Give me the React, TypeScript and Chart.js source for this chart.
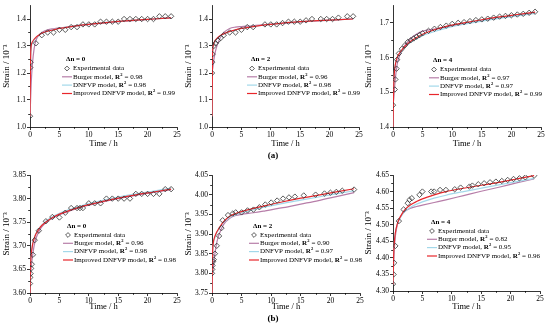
import React, { useEffect, useRef } from 'react';
import { Chart, registerables } from 'chart.js';
Chart.register(...registerables);

const FONT = '"Liberation Serif", "Times New Roman", serif';

// ---------- data ----------
const modelNames = ['Burger model', 'DNFVP model', 'Improved DNFVP model'];
const modelColors = ['#b77ea9', '#a3d8ea', '#e8262b'];

const modelT = [0, 0.1, 0.2, 0.4, 0.7, 1, 1.5, 2, 3, 4, 5, 7, 9, 12, 15, 18, 21, 24];

// (a) Δn = 0
const p1ExpT = [0, 0.05, 0.1, 1, 2, 3, 4, 5, 6, 7, 8, 9, 10, 11, 12, 13, 14, 15, 16, 17, 18, 19, 20, 21, 22, 23, 24];
const p1ExpY = [1.04, 1.22, 1.24, 1.31, 1.34, 1.35, 1.35, 1.36, 1.36, 1.37, 1.37, 1.38, 1.38, 1.38, 1.39, 1.39, 1.39, 1.39, 1.40, 1.40, 1.40, 1.40, 1.40, 1.40, 1.41, 1.41, 1.41];
const p1Burger = [1.04, 1.10, 1.16, 1.23, 1.29, 1.32, 1.34, 1.35, 1.36, 1.364, 1.367, 1.372, 1.377, 1.384, 1.39, 1.395, 1.40, 1.405];
const p1Dnfvp = [1.04, 1.24, 1.29, 1.31, 1.322, 1.33, 1.339, 1.346, 1.355, 1.361, 1.366, 1.373, 1.379, 1.386, 1.391, 1.396, 1.40, 1.404];
const p1Improved = [1.04, 1.25, 1.30, 1.315, 1.325, 1.332, 1.34, 1.347, 1.355, 1.36, 1.365, 1.372, 1.378, 1.385, 1.391, 1.396, 1.40, 1.404];
const p1R2 = ['0.98', '0.98', '0.99'];

// (a) Δn = 2
const p2ExpT = [0, 0.05, 0.1, 0.3, 0.6, 1, 1.5, 2, 3, 4, 5, 6, 7, 9, 10, 11, 12, 13, 14, 15, 16, 17, 18.5, 19.5, 20.5, 21.5, 23, 24];
const p2ExpY = [1.20, 1.24, 1.27, 1.30, 1.31, 1.32, 1.33, 1.34, 1.35, 1.35, 1.36, 1.37, 1.37, 1.38, 1.38, 1.38, 1.385, 1.39, 1.39, 1.39, 1.395, 1.40, 1.40, 1.40, 1.40, 1.405, 1.41, 1.41];
const p2Burger = [1.20, 1.215, 1.23, 1.26, 1.29, 1.31, 1.335, 1.35, 1.365, 1.37, 1.372, 1.375, 1.379, 1.384, 1.389, 1.393, 1.397, 1.401];
const p2Dnfvp = [1.04, 1.26, 1.295, 1.31, 1.322, 1.33, 1.338, 1.344, 1.353, 1.36, 1.365, 1.372, 1.378, 1.385, 1.39, 1.394, 1.397, 1.40];
const p2Improved = [1.04, 1.27, 1.30, 1.315, 1.325, 1.332, 1.34, 1.345, 1.354, 1.36, 1.365, 1.372, 1.378, 1.385, 1.39, 1.394, 1.397, 1.40];
const p2R2 = ['0.96', '0.98', '0.99'];

// (a) Δn = 4
const p3ExpT = [0, 0.3, 0.4, 0.6, 0.7, 1, 1.5, 2, 2.5, 3, 3.5, 4, 4.5, 5, 6, 7, 8, 9, 10, 11, 12, 13, 14, 15, 16, 17, 18, 19, 20, 21, 22, 23, 24];
const p3ExpY = [1.463, 1.508, 1.537, 1.568, 1.594, 1.612, 1.625, 1.635, 1.645, 1.65, 1.655, 1.66, 1.665, 1.67, 1.677, 1.683, 1.688, 1.692, 1.697, 1.70, 1.702, 1.705, 1.708, 1.71, 1.712, 1.715, 1.718, 1.72, 1.722, 1.724, 1.726, 1.729, 1.732];
const p3Burger = [1.46, 1.48, 1.50, 1.54, 1.58, 1.60, 1.62, 1.635, 1.655, 1.668, 1.676, 1.682, 1.688, 1.697, 1.706, 1.714, 1.722, 1.73];
const p3Dnfvp = [1.40, 1.50, 1.55, 1.58, 1.598, 1.608, 1.62, 1.63, 1.644, 1.655, 1.663, 1.675, 1.685, 1.696, 1.705, 1.713, 1.72, 1.727];
const p3Improved = [1.40, 1.50, 1.55, 1.58, 1.60, 1.61, 1.622, 1.632, 1.647, 1.658, 1.667, 1.68, 1.69, 1.70, 1.709, 1.717, 1.724, 1.731];
const p3R2 = ['0.97', '0.97', '0.99'];

// (b) Δn = 0
const p4ExpT = [0, 0.05, 0.1, 0.2, 0.3, 0.5, 0.8, 1.5, 2.7, 3.8, 5, 6, 7, 8, 8.5, 9, 10, 11, 12, 13, 14, 15, 16, 17, 18, 19, 20, 21, 22, 23, 24];
const p4ExpY = [3.62, 3.633, 3.641, 3.652, 3.661, 3.681, 3.712, 3.732, 3.752, 3.761, 3.76, 3.77, 3.78, 3.78, 3.78, 3.78, 3.79, 3.79, 3.79, 3.80, 3.80, 3.80, 3.80, 3.80, 3.81, 3.81, 3.81, 3.81, 3.81, 3.82, 3.82];
const p4Burger = [3.62, 3.64, 3.655, 3.675, 3.70, 3.715, 3.73, 3.74, 3.752, 3.76, 3.766, 3.775, 3.783, 3.792, 3.80, 3.807, 3.813, 3.819];
const p4Dnfvp = [3.60, 3.66, 3.68, 3.70, 3.716, 3.726, 3.736, 3.744, 3.755, 3.763, 3.769, 3.778, 3.786, 3.795, 3.803, 3.81, 3.816, 3.822];
const p4Improved = [3.60, 3.66, 3.68, 3.70, 3.715, 3.725, 3.735, 3.743, 3.753, 3.761, 3.767, 3.776, 3.784, 3.793, 3.801, 3.808, 3.814, 3.82];
const p4R2 = ['0.96', '0.98', '0.98'];

// (b) Δn = 2
const p5ExpT = [0, 0.05, 0.1, 0.2, 0.3, 0.5, 0.8, 1.2, 1.6, 1.8, 2.7, 3.5, 4, 5, 6, 7, 8, 9, 10, 11, 12, 13, 14, 15.5, 17.5, 19, 20, 21, 22, 24];
const p5ExpY = [3.80, 3.81, 3.82, 3.83, 3.835, 3.85, 3.87, 3.895, 3.915, 3.935, 3.948, 3.952, 3.955, 3.955, 3.96, 3.962, 3.968, 3.975, 3.98, 3.985, 3.99, 3.993, 3.995, 3.998, 4.0, 4.003, 4.005, 4.007, 4.01, 4.013];
const p5Burger = [3.78, 3.80, 3.815, 3.84, 3.87, 3.89, 3.91, 3.925, 3.94, 3.947, 3.95, 3.954, 3.959, 3.967, 3.976, 3.985, 3.995, 4.005];
const p5Dnfvp = [3.75, 3.845, 3.87, 3.887, 3.90, 3.908, 3.92, 3.93, 3.942, 3.949, 3.954, 3.962, 3.969, 3.978, 3.986, 3.994, 4.002, 4.01];
const p5Improved = [3.75, 3.85, 3.875, 3.89, 3.902, 3.91, 3.922, 3.932, 3.945, 3.952, 3.957, 3.965, 3.972, 3.982, 3.991, 3.999, 4.007, 4.015];
const p5R2 = ['0.90', '0.97', '0.98'];

// (b) Δn = 4
const p6ExpT = [0, 0.1, 0.2, 0.4, 1, 1.8, 2.5, 2.8, 3.2, 4.5, 5, 6.5, 7, 8, 9, 10.5, 11.5, 13, 13.5, 14.5, 15.5, 16.5, 17.5, 18.5, 19.5, 20.5, 21.5, 22.5, 24];
const p6ExpY = [4.321, 4.35, 4.385, 4.436, 4.511, 4.546, 4.565, 4.575, 4.58, 4.59, 4.60, 4.60, 4.60, 4.605, 4.605, 4.607, 4.612, 4.615, 4.618, 4.622, 4.625, 4.628, 4.63, 4.632, 4.635, 4.638, 4.64, 4.643, 4.648];
const p6Burger = [4.32, 4.38, 4.42, 4.465, 4.497, 4.515, 4.53, 4.54, 4.55, 4.555, 4.559, 4.567, 4.575, 4.588, 4.601, 4.613, 4.626, 4.638];
const p6Dnfvp = [4.32, 4.40, 4.44, 4.475, 4.50, 4.513, 4.528, 4.54, 4.553, 4.562, 4.569, 4.58, 4.589, 4.60, 4.61, 4.62, 4.63, 4.64];
const p6Improved = [4.32, 4.40, 4.44, 4.475, 4.50, 4.515, 4.532, 4.545, 4.56, 4.57, 4.578, 4.59, 4.60, 4.61, 4.619, 4.628, 4.638, 4.648];
const p6R2 = ['0.82', '0.95', '0.96'];

const panelDn = ['0', '2', '4', '0', '2', '4'];
const yMins = [1.0, 1.0, 1.4, 3.6, 3.75, 4.3];
const yMaxs = [1.45, 1.45, 1.75, 3.85, 4.05, 4.65];
const ySteps = [0.1, 0.1, 0.1, 0.05, 0.05, 0.05];
const yDecimals = [1, 1, 1, 2, 2, 2];
const xTickMax = 25;
const xTickStep = 5;

const panelData = [
  { expT: p1ExpT, expY: p1ExpY, models: [p1Burger, p1Dnfvp, p1Improved], r2: p1R2 },
  { expT: p2ExpT, expY: p2ExpY, models: [p2Burger, p2Dnfvp, p2Improved], r2: p2R2 },
  { expT: p3ExpT, expY: p3ExpY, models: [p3Burger, p3Dnfvp, p3Improved], r2: p3R2 },
  { expT: p4ExpT, expY: p4ExpY, models: [p4Burger, p4Dnfvp, p4Improved], r2: p4R2 },
  { expT: p5ExpT, expY: p5ExpY, models: [p5Burger, p5Dnfvp, p5Improved], r2: p5R2 },
  { expT: p6ExpT, expY: p6ExpY, models: [p6Burger, p6Dnfvp, p6Improved], r2: p6R2 },
];

// ---------- layout (page pixels) ----------
const boxes = [
  { left: 0, top: 0, L: 30, R: 177, T: 5, B: 127, bottom: 150, lx: 32, ly: 54 },
  { left: 182, top: 0, L: 212, R: 359, T: 5, B: 127, bottom: 150, lx: 35, ly: 54 },
  { left: 362, top: 0, L: 393, R: 541, T: 5, B: 127, bottom: 150, lx: 36, ly: 55 },
  { left: 0, top: 160, L: 30, R: 177, T: 175, B: 293, bottom: 313, lx: 33, ly: 51 },
  { left: 182, top: 160, L: 212, R: 360, T: 175, B: 293, bottom: 313, lx: 37, ly: 51 },
  { left: 362, top: 160, L: 393, R: 540, T: 175, B: 291, bottom: 313, lx: 34, ly: 47 },
];
const RIGHT_PAD = 8;

function drawDiamond(ctx: CanvasRenderingContext2D, x: number, y: number, r: number) {
  ctx.beginPath();
  ctx.moveTo(x, y - r);
  ctx.lineTo(x + r, y);
  ctx.lineTo(x, y + r);
  ctx.lineTo(x - r, y);
  ctx.closePath();
  ctx.fillStyle = '#fff';
  ctx.fill();
  ctx.strokeStyle = '#333';
  ctx.lineWidth = 0.8;
  ctx.stroke();
}

function makeExtras(idx: number) {
  const box = boxes[idx];
  const pd = panelData[idx];
  return {
    id: 'extras' + idx,
    afterDraw(chart: any) {
      const ctx: CanvasRenderingContext2D = chart.ctx;
      const xs = chart.scales.x;
      const ys = chart.scales.y;
      ctx.save();
      // minor ticks
      ctx.strokeStyle = '#000';
      ctx.lineWidth = 0.8;
      const xt = xs.ticks.map((t: any) => t.value);
      for (let i = 0; i < xt.length - 1; i++) {
        const px = Math.round(xs.getPixelForValue((xt[i] + xt[i + 1]) / 2)) + 0.5;
        ctx.beginPath();
        ctx.moveTo(px, ys.bottom);
        ctx.lineTo(px, ys.bottom + 1.8);
        ctx.stroke();
      }
      const yt = ys.ticks.map((t: any) => t.value);
      const ystep = yt[1] - yt[0];
      for (let v = yt[0] + ystep / 2; v < ys.max; v += ystep) {
        const py = Math.round(ys.getPixelForValue(v)) + 0.5;
        ctx.beginPath();
        ctx.moveTo(xs.left, py);
        ctx.lineTo(xs.left - 1.8, py);
        ctx.stroke();
      }
      // legend
      const ca = chart.chartArea;
      const x0 = ca.left + box.lx;
      const y0 = ca.top + box.ly;
      ctx.textBaseline = 'middle';
      ctx.textAlign = 'left';
      ctx.fillStyle = '#000';
      ctx.font = `bold 7px ${FONT}`;
      ctx.fillText('\u0394n = ' + panelDn[idx], x0 + 4, y0);
      const rowY = [y0 + 9, y0 + 17.3, y0 + 25.6, y0 + 34];
      drawDiamond(ctx, x0 + 5, rowY[0], 2.4);
      ctx.fillStyle = '#000';
      ctx.font = `7px ${FONT}`;
      ctx.fillText('Experimental data', x0 + 11, rowY[0]);
      for (let m = 0; m < 3; m++) {
        const yy = rowY[m + 1];
        ctx.strokeStyle = modelColors[m];
        ctx.lineWidth = 1.2;
        ctx.beginPath();
        ctx.moveTo(x0, yy);
        ctx.lineTo(x0 + 10, yy);
        ctx.stroke();
        let cx = x0 + 11;
        ctx.fillStyle = '#000';
        ctx.font = `7px ${FONT}`;
        const a = modelNames[m] + ', ';
        ctx.fillText(a, cx, yy);
        cx += ctx.measureText(a).width;
        ctx.font = `bold 7px ${FONT}`;
        ctx.fillText('R', cx, yy);
        cx += ctx.measureText('R').width;
        ctx.font = `bold 4.5px ${FONT}`;
        ctx.fillText('2', cx + 0.2, yy - 2.3);
        cx += ctx.measureText('2').width + 0.4;
        ctx.font = `7px ${FONT}`;
        ctx.fillText(' = ' + pd.r2[m], cx, yy);
      }
      ctx.restore();
    },
  };
}

function Panel({ idx }: { idx: number }) {
  const ref = useRef<HTMLCanvasElement>(null);
  const box = boxes[idx];
  const w = box.R + RIGHT_PAD - box.left;
  const h = box.bottom - box.top;
  useEffect(() => {
    const pd = panelData[idx];
    const expData = pd.expT.map((t, i) => ({ x: t, y: pd.expY[i] }));
    const modelSets = [2, 1, 0].map((m) => ({
      label: modelNames[m],
      data: modelT.map((t, i) => ({ x: t, y: pd.models[m][i] })),
      borderColor: modelColors[m],
      backgroundColor: modelColors[m],
      borderWidth: 1.2,
      pointRadius: 0,
      showLine: true,
      cubicInterpolationMode: 'monotone' as const,
      fill: false,
    }));
    const chart = new Chart(ref.current as HTMLCanvasElement, {
      type: 'scatter',
      data: {
        datasets: [
          {
            label: 'Experimental data',
            data: expData,
            showLine: false,
            pointStyle: 'rectRot',
            pointRadius: 2.7,
            pointBorderWidth: 0.8,
            borderColor: '#333',
            backgroundColor: 'rgba(255,255,255,0)',
          } as any,
          ...modelSets,
        ],
      },
      options: {
        responsive: false,
        animation: false,
        devicePixelRatio: 1,
        layout: { padding: { left: 0, right: RIGHT_PAD, top: box.T - box.top, bottom: 0 } },
        plugins: { legend: { display: false }, tooltip: { enabled: false } },
        scales: {
          x: {
            type: 'linear',
            min: 0,
            max: xTickMax,
            afterFit: (s: any) => { s.height = box.bottom - box.B; },
            ticks: { stepSize: xTickStep, font: { family: FONT, size: 7.5 }, color: '#000', padding: 1, maxRotation: 0, includeBounds: false },
            grid: { drawOnChartArea: false, drawTicks: true, tickLength: 3, color: '#000', lineWidth: 0.8 },
            border: { display: true, color: '#000', width: 0.8 },
            title: { display: true, text: 'Time / h', font: { family: FONT, size: 8.5 }, color: '#000', padding: { top: 0, bottom: 1 } },
          },
          y: {
            type: 'linear',
            min: yMins[idx],
            max: yMaxs[idx],
            afterFit: (s: any) => { s.width = box.L - box.left; },
            ticks: {
              stepSize: ySteps[idx],
              includeBounds: false,
              font: { family: FONT, size: 7.5 },
              color: '#000',
              padding: 1,
              callback: (v: any) => Number(v).toFixed(yDecimals[idx]),
            },
            grid: { drawOnChartArea: false, drawTicks: true, tickLength: 3, color: '#000', lineWidth: 0.8 },
            border: { display: true, color: '#000', width: 0.8 },
            title: { display: true, text: 'Strain / 10\u207B\u00B3', font: { family: FONT, size: 9 }, color: '#000', padding: { top: 1, bottom: 0 } },
          },
        },
      } as any,
      plugins: [makeExtras(idx)],
    });
    return () => chart.destroy();
  }, [idx]);
  return (
    <canvas
      ref={ref}
      width={w}
      height={h}
      style={{ position: 'absolute', left: box.left, top: box.top, width: w, height: h }}
    />
  );
}

export default function App() {
  const labelStyle: React.CSSProperties = {
    position: 'absolute',
    fontFamily: FONT,
    fontWeight: 'bold',
    fontSize: 9,
    width: 30,
    textAlign: 'center',
    lineHeight: '10px',
    color: '#000',
  };
  return (
    <div style={{ position: 'absolute', left: 0, top: 0, width: 550, height: 331, background: '#fff', overflow: 'hidden' }}>
      {boxes.map((_, i) => (
        <Panel key={i} idx={i} />
      ))}
      <div style={{ ...labelStyle, left: 258, top: 150 }}>(a)</div>
      <div style={{ ...labelStyle, left: 258, top: 313 }}>(b)</div>
    </div>
  );
}
